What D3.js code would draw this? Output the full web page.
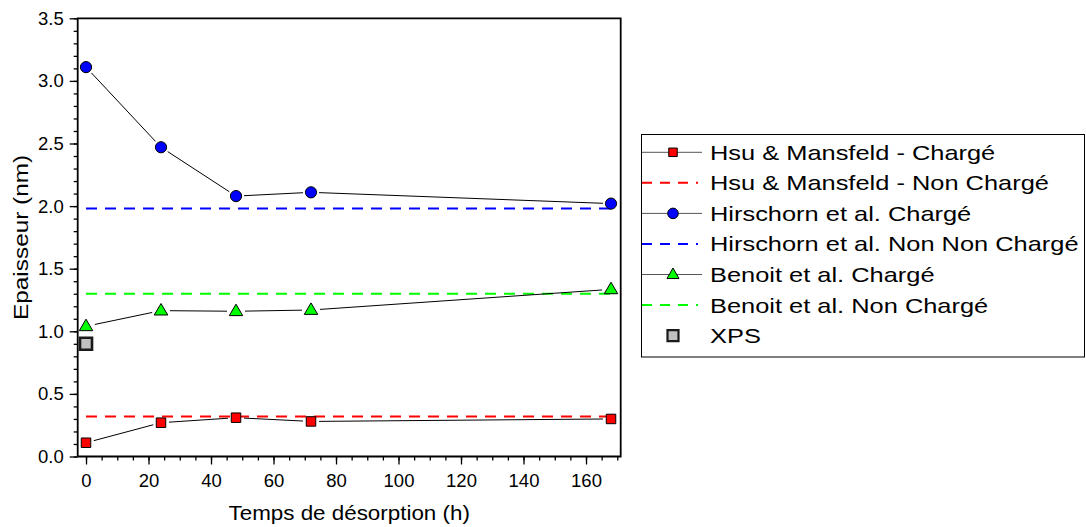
<!DOCTYPE html>
<html>
<head>
<meta charset="utf-8">
<script src="https://cdn.jsdelivr.net/npm/d3@7"></script>
<style>
html,body{margin:0;padding:0;background:#fff;}
svg text{font-family:"Liberation Sans",Arial,sans-serif;fill:#000;}
</style>
</head>
<body>
<svg id="chart" width="1086" height="527"></svg>
<script>
// ---- data ----
const times = [0, 24, 48, 72, 168];
const hsuCharge = [0.11, 0.27, 0.31, 0.28, 0.30];
const hirschornCharge = [3.11, 2.47, 2.08, 2.11, 2.02];
const benoitCharge = [1.04, 1.165, 1.16, 1.17, 1.335];
const hsuNonCharge = 0.32;
const hirschornNonCharge = 1.98;
const benoitNonCharge = 1.30;
const xpsTime = [0];
const xpsValue = [0.90];
const refSpan = [0, 168];
const xTicks = [0, 20, 40, 60, 80, 100, 120, 140, 160];
const yTicks = [0.0, 0.5, 1.0, 1.5, 2.0, 2.5, 3.0, 3.5];
const legendLabels = [
  "Hsu & Mansfeld - Chargé",
  "Hsu & Mansfeld - Non Chargé",
  "Hirschorn et al. Chargé",
  "Hirschorn et al. Non Non Chargé",
  "Benoit et al. Chargé",
  "Benoit et al. Non Chargé",
  "XPS"
];

// ---- layout ----
const L = 77.7, R = 620.7, T = 18.3, B = 456.5;
const svg = d3.select("#chart");
const x = d3.scaleLinear().domain([-2.66, 171.1]).range([L, R]);
const y = d3.scaleLinear().domain([0, 3.5]).range([B, T]);

const RED = "#ff0000", BLUE = "#0000ff", GREEN = "#00ff00";

function squarePath(s){ const h=s/2; return `M${-h},${-h}H${h}V${h}H${-h}Z`; }
function trianglePath(w,h){ return `M0,${-h*0.62}L${w/2},${h*0.38}L${-w/2},${h*0.38}Z`; }

// ---- axes ----
const gx = svg.append("g").attr("transform", `translate(0,${B})`);
gx.call(d3.axisBottom(x).tickValues(d3.range(0, 171, 5)).tickSize(4).tickFormat(""))
  .call(g => g.select(".domain").remove());
gx.append("g").call(d3.axisBottom(x).tickValues(xTicks).tickSize(8).tickPadding(8.9).tickFormat(d3.format("d")))
  .call(g => g.select(".domain").remove())
  .call(g => g.selectAll("text").attr("font-size", 18.5));
gx.selectAll("line").attr("stroke", "#000").attr("stroke-width", 1.3);

const gy = svg.append("g").attr("transform", `translate(${L},0)`);
gy.call(d3.axisLeft(y).tickValues(d3.range(0, 3.51, 0.1)).tickSize(4).tickFormat(""))
  .call(g => g.select(".domain").remove());
gy.append("g").call(d3.axisLeft(y).tickValues(yTicks).tickSize(8).tickPadding(6).tickFormat(d3.format(".1f")))
  .call(g => g.select(".domain").remove())
  .call(g => g.selectAll("text").attr("font-size", 18.5));
gy.selectAll("line").attr("stroke", "#000").attr("stroke-width", 1.3);

// frame
svg.append("path")
  .attr("d", `M${L},${B}V${T}H${R}V${B}H${L}`)
  .attr("fill", "none").attr("stroke", "#000").attr("stroke-width", 1.8);

// axis titles
svg.append("text")
  .attr("transform", `translate(${(L+R)/2},520) scale(1.12,1)`)
  .attr("text-anchor", "middle").attr("font-size", 20).text("Temps de désorption (h)");
svg.append("text")
  .attr("transform", `translate(28,${(T+B)/2}) rotate(-90) scale(1.25,1)`)
  .attr("text-anchor", "middle").attr("font-size", 19.5).text("Epaisseur (nm)");

// ---- plot content ----
const plot = svg.append("g");

[[hsuNonCharge, RED],[hirschornNonCharge, BLUE],[benoitNonCharge, GREEN]].forEach(([v,c]) => {
  plot.append("line")
    .attr("x1", x(refSpan[0])).attr("x2", x(refSpan[1]))
    .attr("y1", y(v)).attr("y2", y(v))
    .attr("stroke", c).attr("stroke-width", 2).attr("stroke-dasharray", "11,8");
});

function gappedLine(vals, gap){
  for(let i=0;i<vals.length-1;i++){
    const x1=x(times[i]), y1=y(vals[i]), x2=x(times[i+1]), y2=y(vals[i+1]);
    const dx=x2-x1, dy=y2-y1, len=Math.hypot(dx,dy);
    const ux=dx/len, uy=dy/len;
    plot.append("line")
      .attr("x1", x1+ux*gap).attr("y1", y1+uy*gap)
      .attr("x2", x2-ux*gap).attr("y2", y2-uy*gap)
      .attr("stroke", "#000").attr("stroke-width", 1);
  }
}
gappedLine(hsuCharge, 8);
gappedLine(hirschornCharge, 8);
gappedLine(benoitCharge, 9);

plot.selectAll(".sq").data(times.map((t,i)=>[t,hsuCharge[i]])).join("path")
  .attr("d", squarePath(9.5)).attr("transform", d=>`translate(${x(d[0])},${y(d[1])})`)
  .attr("fill", RED).attr("stroke", "#000").attr("stroke-width", 1);
plot.selectAll(".ci").data(times.map((t,i)=>[t,hirschornCharge[i]])).join("circle")
  .attr("cx", d=>x(d[0])).attr("cy", d=>y(d[1])).attr("r", 5.6)
  .attr("fill", BLUE).attr("stroke", "#000").attr("stroke-width", 1);
plot.selectAll(".tr").data(times.map((t,i)=>[t,benoitCharge[i]])).join("path")
  .attr("d", trianglePath(13.5, 11.5)).attr("transform", d=>`translate(${x(d[0])},${y(d[1])})`)
  .attr("fill", GREEN).attr("stroke", "#000").attr("stroke-width", 1);
plot.selectAll(".xps").data(xpsTime.map((t,i)=>[t,xpsValue[i]])).join("path")
  .attr("d", squarePath(12)).attr("transform", d=>`translate(${x(d[0])},${y(d[1])})`)
  .attr("fill", "#c0c0c0").attr("stroke", "#1a1a1a").attr("stroke-width", 2.6);

// ---- legend ----
const lg = svg.append("g");
lg.append("rect").attr("x", 641.5).attr("y", 134.5).attr("width", 443).attr("height", 222.5)
  .attr("fill", "#fff").attr("stroke", "#000").attr("stroke-width", 1);
const rowY = i => 152.3 + i*30.55;
const kinds = [
  {type:"line", color:RED, sym:"sq"},
  {type:"dash", color:RED},
  {type:"line", color:BLUE, sym:"ci"},
  {type:"dash", color:BLUE},
  {type:"line", color:GREEN, sym:"tr"},
  {type:"dash", color:GREEN},
  {type:"xps"}
];
legendLabels.forEach((lab,i) => {
  const k = kinds[i], cy = rowY(i);
  if(k.type==="line"){
    lg.append("line").attr("x1", 642).attr("x2", 702).attr("y1", cy).attr("y2", cy)
      .attr("stroke", "#555").attr("stroke-width", 1);
    if(k.sym==="sq") lg.append("path").attr("d", squarePath(8.5)).attr("transform", `translate(673,${cy})`)
      .attr("fill", k.color).attr("stroke", "#000").attr("stroke-width", 1);
    if(k.sym==="ci") lg.append("circle").attr("cx", 673).attr("cy", cy).attr("r", 5.3)
      .attr("fill", k.color).attr("stroke", "#000").attr("stroke-width", 1);
    if(k.sym==="tr") lg.append("path").attr("d", trianglePath(12, 10.5)).attr("transform", `translate(673,${cy})`)
      .attr("fill", k.color).attr("stroke", "#000").attr("stroke-width", 1);
  } else if(k.type==="dash"){
    lg.append("line").attr("x1", 642).attr("x2", 698).attr("y1", cy).attr("y2", cy)
      .attr("stroke", k.color).attr("stroke-width", 2).attr("stroke-dasharray", "10,8");
  } else {
    lg.append("path").attr("d", squarePath(11)).attr("transform", `translate(673,${cy})`)
      .attr("fill", "#c0c0c0").attr("stroke", "#1a1a1a").attr("stroke-width", 2.2);
  }
  lg.append("text").attr("transform", `translate(710,${cy+7.5}) scale(1.24,1)`)
    .attr("font-size", 20.5).text(lab);
});
</script>
</body>
</html>
